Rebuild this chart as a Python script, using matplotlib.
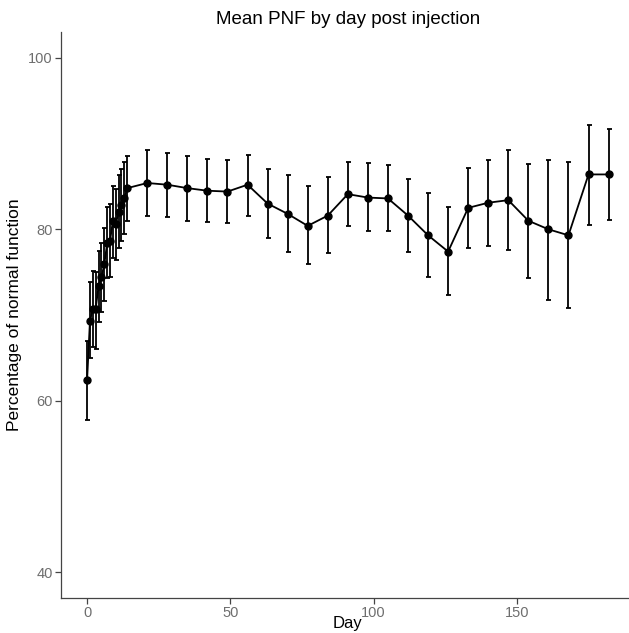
import matplotlib
matplotlib.use('Agg')
import matplotlib.pyplot as plt
import numpy as np

# ---------------------- Data ---------------------- #
days = [0, 1, 2, 3, 4, 5, 6, 7, 8, 9, 10, 11, 12, 13, 14,
        21, 28, 35, 42, 49, 56, 63, 70, 77, 84, 91, 98, 105,
        112, 119, 126, 133, 140, 147, 154, 161, 168, 175, 182]
mean_pnf = [62.4, 69.3, 70.7, 70.7, 73.4, 74.4, 75.9, 78.4, 78.6, 81.0,
            80.6, 82.0, 82.8, 83.6, 84.8,
            85.4, 85.2, 84.8, 84.5, 84.4, 85.2, 83.0, 81.8, 80.4, 81.6,
            84.1, 83.7, 83.6, 81.6, 79.3, 77.4, 82.5, 83.1, 83.4, 81.0,
            80.0, 79.3, 86.4, 86.4]
lower = [57.8, 65.0, 66.3, 66.0, 69.2, 70.3, 71.6, 74.3, 74.4, 76.6,
         76.4, 77.8, 78.6, 79.5, 81.0,
         81.6, 81.4, 81.0, 80.9, 80.7, 81.6, 79.0, 77.3, 75.9, 77.2,
         80.4, 79.8, 79.8, 77.4, 74.4, 72.3, 77.8, 78.1, 77.6, 74.3,
         71.7, 70.8, 80.5, 81.1]
upper = [67.0, 73.8, 75.1, 75.0, 77.5, 78.4, 80.2, 82.6, 82.9, 85.1,
         84.7, 86.3, 87.0, 87.8, 88.6,
         89.2, 88.9, 88.5, 88.2, 88.1, 88.7, 87.0, 86.3, 85.0, 86.1,
         87.8, 87.7, 87.5, 85.9, 84.2, 82.6, 87.2, 88.1, 89.2, 87.6,
         88.1, 87.9, 92.2, 91.7]
x_ticks = [0, 50, 100, 150]
y_ticks = [40, 60, 80, 100]
# --------------------------------------------------- #

plt.rcParams['font.family'] = ['Liberation Sans', 'DejaVu Sans']

fig = plt.figure(figsize=(6.29, 6.33), dpi=100)
ax = fig.add_axes([0.097, 0.0553, 0.912, 0.894])

mean_arr = np.array(mean_pnf)
yerr = [mean_arr - np.array(lower), np.array(upper) - mean_arr]
ax.errorbar(days, mean_pnf, yerr=yerr, color='black', linewidth=1.3,
            elinewidth=1.3, capsize=1.8, capthick=1.3,
            marker='o', markersize=5)

ax.set_xlim(-9.1, 191.1)
ax.set_ylim(37, 103)
ax.set_xticks(x_ticks)
ax.set_yticks(y_ticks)

for side in ['top', 'right']:
    ax.spines[side].set_visible(False)
for side in ['left', 'bottom']:
    ax.spines[side].set_color('#444444')
    ax.spines[side].set_linewidth(0.9)

ax.tick_params(colors='#444444', labelcolor='#6e6e6e', labelsize=10.5,
               length=4, width=0.9, pad=2)

ax.set_title('Mean PNF by day post injection', fontsize=13.5, pad=6)
ax.set_xlabel('Day', fontsize=12)
# keep "Day" inside the figure, just under the tick labels
ax.xaxis.set_label_coords(0.5, -0.0325)
ax.set_ylabel('Percentage of normal function', fontsize=12.5, labelpad=4)

fig.savefig('out.png', dpi=100)
